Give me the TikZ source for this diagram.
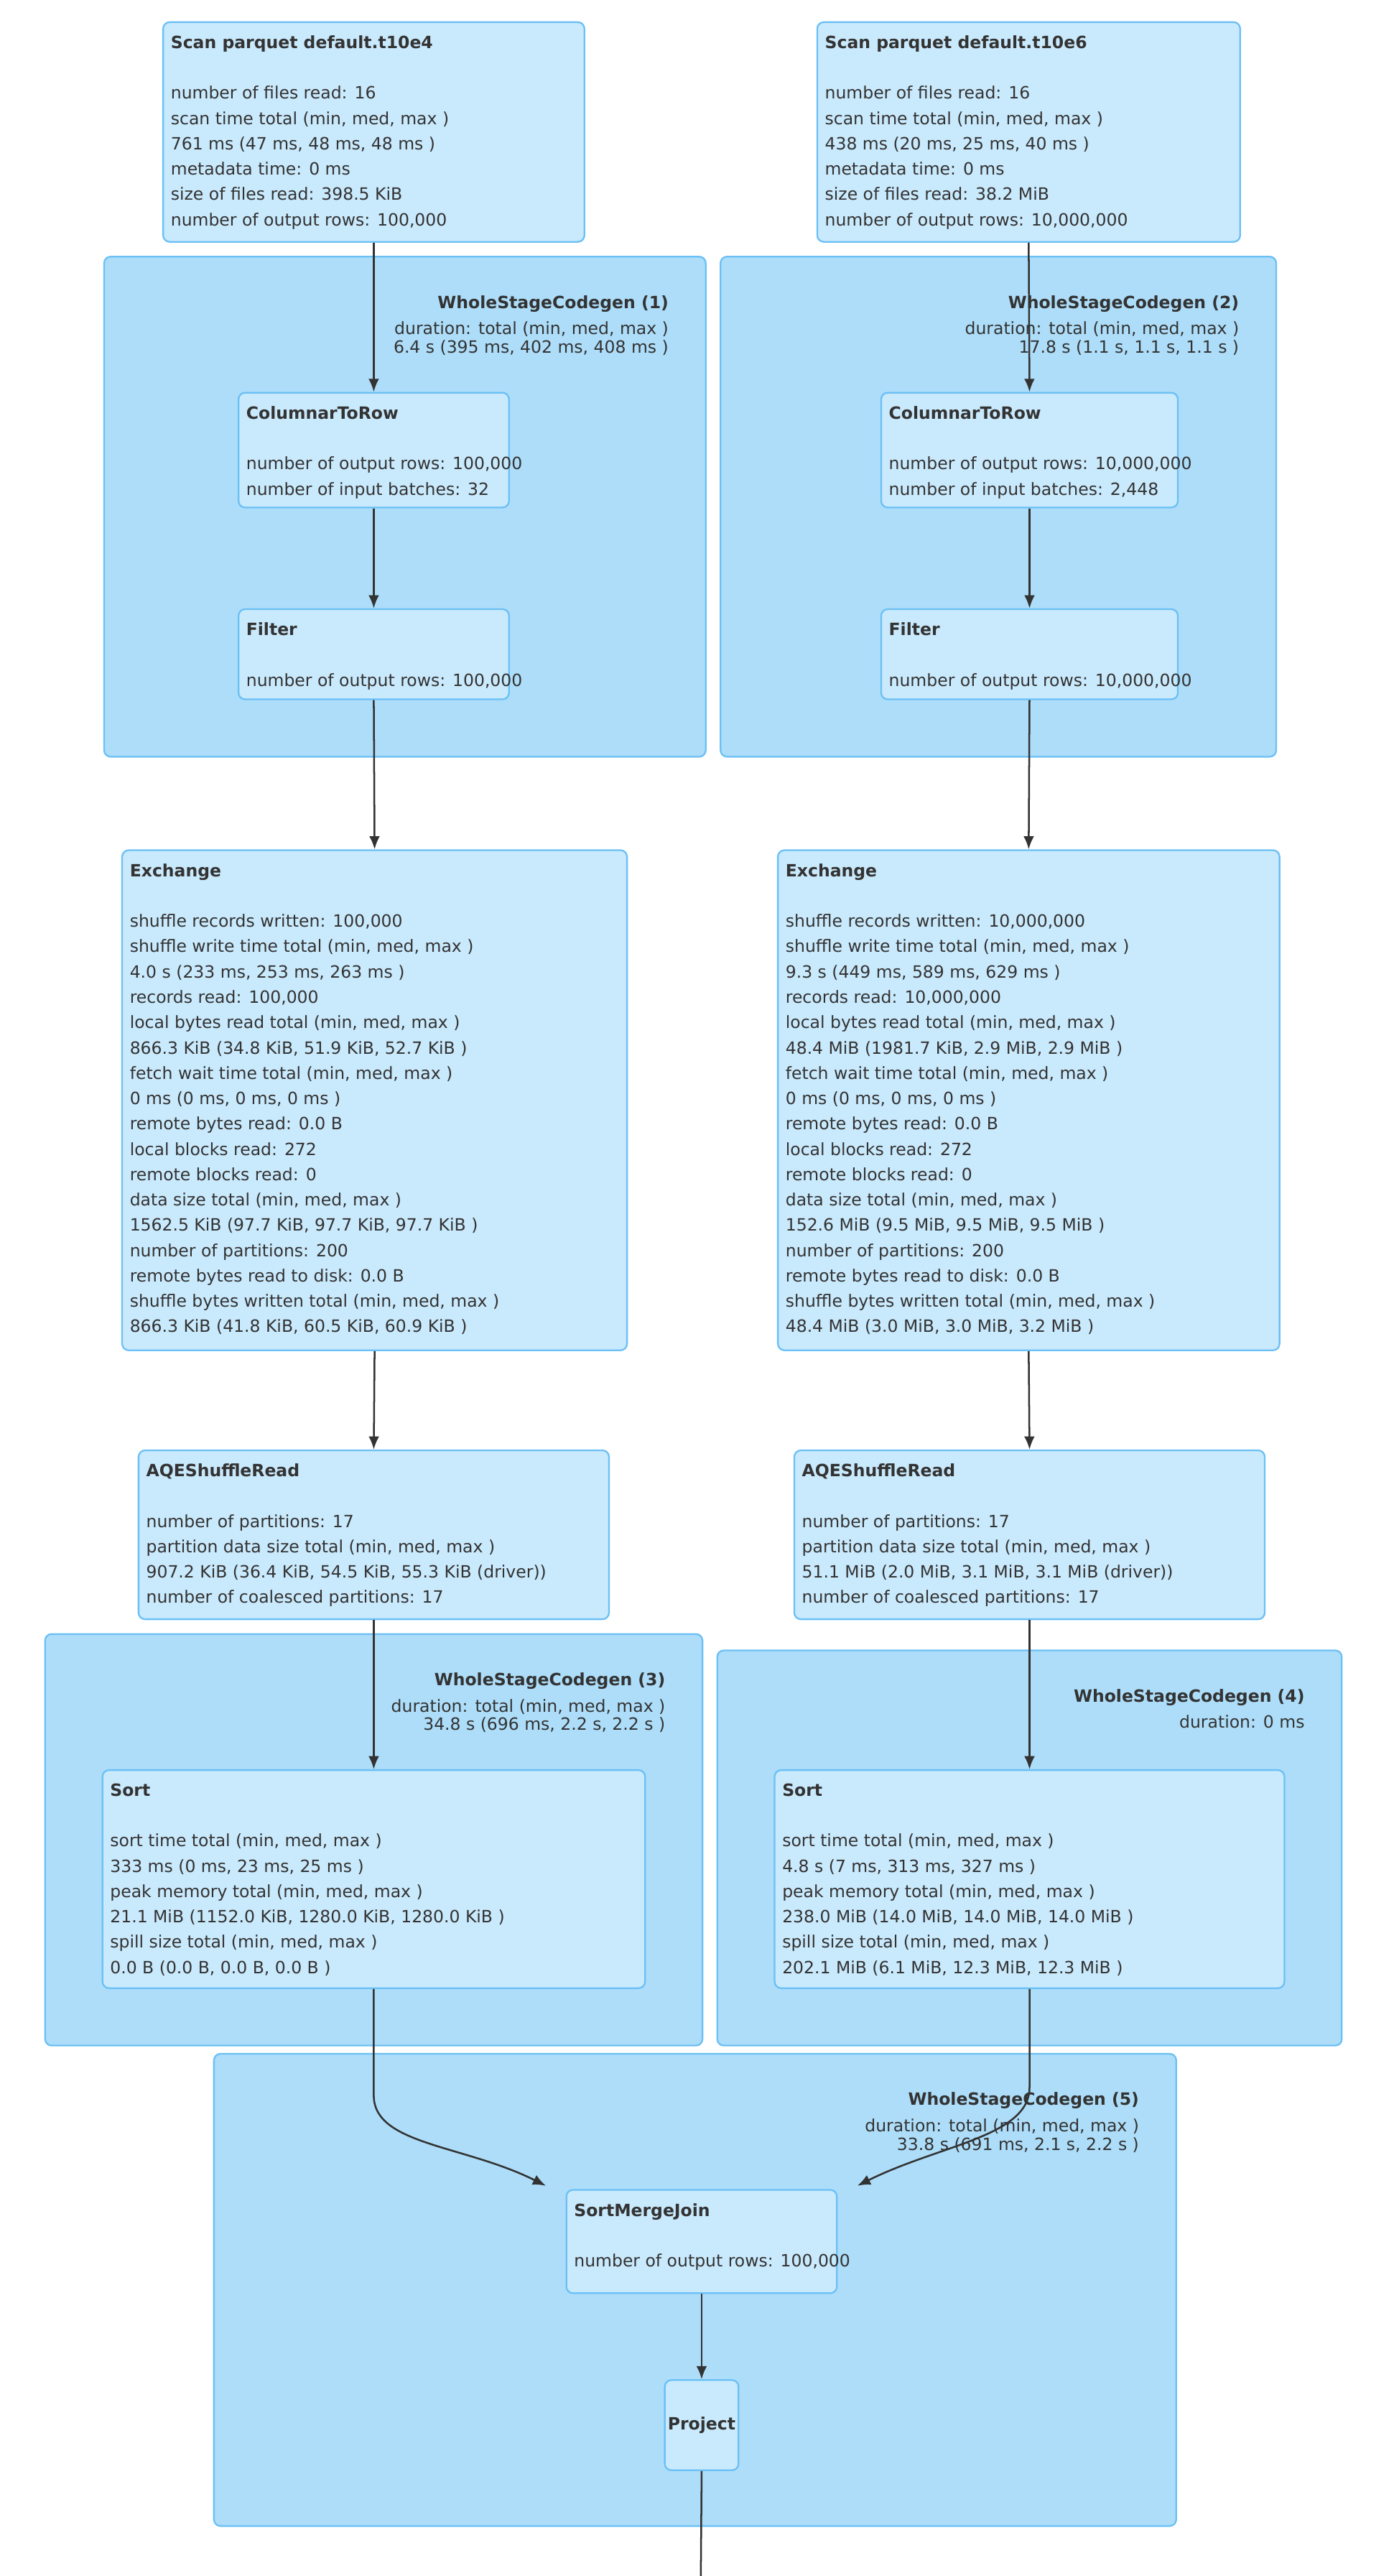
\documentclass[tikz,border=0pt]{standalone}
\usepackage{fontspec}
\setmainfont{DejaVu Sans}
\usetikzlibrary{arrows.meta,calc}
\definecolor{outerfill}{HTML}{ADDDF9}
\definecolor{outerline}{HTML}{6BC0F5}
\definecolor{innerfill}{HTML}{C9E9FC}
\definecolor{txtc}{HTML}{333333}
\tikzset{
  cluster/.style={draw=outerline,fill=outerfill,line width=1pt,rounded corners=4pt,inner sep=0pt,anchor=north west},
  opbox/.style={draw=outerline,fill=innerfill,line width=1pt,rounded corners=4pt,inner sep=0pt,anchor=north west},
  txt/.style={text=txtc,font=\fontsize{10.3}{15.45}\selectfont,align=left,inner sep=0pt,anchor=north west},
  wtxt/.style={text=txtc,font=\fontsize{10.3}{11.2}\selectfont,align=right,inner sep=0pt,anchor=base east},
  flow/.style={draw=txtc,line width=1.1pt,-{Latex[length=8pt,width=6.5pt]}},
}
\newcommand{\clus}[6]{%
  \node[cluster,minimum width={#4-#2},minimum height={#5-#3}] (#1) at (#2,#3) {};
  \node[wtxt] (#1t) at (#4-22,#3+32) {\textbf{#6}};}
\newcommand{\clusdur}[2]{%
  \node[wtxt,anchor=north east] (#1d) at ($(#1t.base east)+(0,8)$) {#2};}
\newcommand{\op}[7]{%
  \node[opbox,minimum width={#4-#2},minimum height={#5-#3}] (#1) at (#2,#3) {};
  \node[txt] (#1t) at (#2+5,#3+8.5) {\textbf{#6}\\[15.45pt]#7};}
\begin{document}
\begin{tikzpicture}[x=1pt,y=-1pt]
\useasboundingbox (0,0) rectangle (850,1571);
% clusters
\clus{w1}{63}{156}{430}{461}{WholeStageCodegen (1)}
\clusdur{w1}{duration: total (min, med, max )\\6.4 s (395 ms, 402 ms, 408 ms )}
\clus{w2}{439}{156}{778}{461}{WholeStageCodegen (2)}
\clusdur{w2}{duration: total (min, med, max )\\17.8 s (1.1 s, 1.1 s, 1.1 s )}
\clus{w3}{27}{996}{428}{1247}{WholeStageCodegen (3)}
\clusdur{w3}{duration: total (min, med, max )\\34.8 s (696 ms, 2.2 s, 2.2 s )}
\clus{w4}{437}{1006}{818}{1247}{WholeStageCodegen (4)}
\clusdur{w4}{duration: 0 ms}
\clus{w5}{130}{1252}{717}{1540}{WholeStageCodegen (5)}
\clusdur{w5}{duration: total (min, med, max )\\33.8 s (691 ms, 2.1 s, 2.2 s )}
% operators
\op{s1}{99}{13}{356}{147}{Scan parquet default.t10e4}{number of files read: 16\\scan time total (min, med, max )\\761 ms (47 ms, 48 ms, 48 ms )\\metadata time: 0 ms\\size of files read: 398.5 KiB\\number of output rows: 100,000}
\op{s2}{498}{13}{756}{147}{Scan parquet default.t10e6}{number of files read: 16\\scan time total (min, med, max )\\438 ms (20 ms, 25 ms, 40 ms )\\metadata time: 0 ms\\size of files read: 38.2 MiB\\number of output rows: 10,000,000}
\op{c1}{145}{239}{310}{309}{ColumnarToRow}{number of output rows: 100,000\\number of input batches: 32}
\op{c2}{537}{239}{718}{309}{ColumnarToRow}{number of output rows: 10,000,000\\number of input batches: 2,448}
\op{f1}{145}{371}{310}{426}{Filter}{number of output rows: 100,000}
\op{f2}{537}{371}{718}{426}{Filter}{number of output rows: 10,000,000}
\op{e1}{74}{518}{382}{823}{Exchange}{shuffle records written: 100,000\\shuffle write time total (min, med, max )\\4.0 s (233 ms, 253 ms, 263 ms )\\records read: 100,000\\local bytes read total (min, med, max )\\866.3 KiB (34.8 KiB, 51.9 KiB, 52.7 KiB )\\fetch wait time total (min, med, max )\\0 ms (0 ms, 0 ms, 0 ms )\\remote bytes read: 0.0 B\\local blocks read: 272\\remote blocks read: 0\\data size total (min, med, max )\\1562.5 KiB (97.7 KiB, 97.7 KiB, 97.7 KiB )\\number of partitions: 200\\remote bytes read to disk: 0.0 B\\shuffle bytes written total (min, med, max )\\866.3 KiB (41.8 KiB, 60.5 KiB, 60.9 KiB )}
\op{e2}{474}{518}{780}{823}{Exchange}{shuffle records written: 10,000,000\\shuffle write time total (min, med, max )\\9.3 s (449 ms, 589 ms, 629 ms )\\records read: 10,000,000\\local bytes read total (min, med, max )\\48.4 MiB (1981.7 KiB, 2.9 MiB, 2.9 MiB )\\fetch wait time total (min, med, max )\\0 ms (0 ms, 0 ms, 0 ms )\\remote bytes read: 0.0 B\\local blocks read: 272\\remote blocks read: 0\\data size total (min, med, max )\\152.6 MiB (9.5 MiB, 9.5 MiB, 9.5 MiB )\\number of partitions: 200\\remote bytes read to disk: 0.0 B\\shuffle bytes written total (min, med, max )\\48.4 MiB (3.0 MiB, 3.0 MiB, 3.2 MiB )}
\op{a1}{84}{884}{371}{987}{AQEShuffleRead}{number of partitions: 17\\partition data size total (min, med, max )\\907.2 KiB (36.4 KiB, 54.5 KiB, 55.3 KiB (driver))\\number of coalesced partitions: 17}
\op{a2}{484}{884}{771}{987}{AQEShuffleRead}{number of partitions: 17\\partition data size total (min, med, max )\\51.1 MiB (2.0 MiB, 3.1 MiB, 3.1 MiB (driver))\\number of coalesced partitions: 17}
\op{o1}{62}{1079}{393}{1212}{Sort}{sort time total (min, med, max )\\333 ms (0 ms, 23 ms, 25 ms )\\peak memory total (min, med, max )\\21.1 MiB (1152.0 KiB, 1280.0 KiB, 1280.0 KiB )\\spill size total (min, med, max )\\0.0 B (0.0 B, 0.0 B, 0.0 B )}
\op{o2}{472}{1079}{783}{1212}{Sort}{sort time total (min, med, max )\\4.8 s (7 ms, 313 ms, 327 ms )\\peak memory total (min, med, max )\\238.0 MiB (14.0 MiB, 14.0 MiB, 14.0 MiB )\\spill size total (min, med, max )\\202.1 MiB (6.1 MiB, 12.3 MiB, 12.3 MiB )}
\op{j}{345}{1335}{510}{1398}{SortMergeJoin}{number of output rows: 100,000}
\node[opbox,minimum width=45,minimum height=55] (p) at (405,1451) {};
\node[txt,anchor=center] (pt) at (p.center) {\textbf{Project}};
\coordinate (pend) at (427.5,1571);
% connectors
\draw[flow] (s1.south) -- (c1.north);
\draw[flow] (c1.south) -- (f1.north);
\draw[flow] (f1.south) -- (e1.north);
\draw[flow] (e1.south) -- (a1.north);
\draw[flow] (a1.south) -- (o1.north);
\draw[flow] (s2.south) -- (c2.north);
\draw[flow] (c2.south) -- (f2.north);
\draw[flow] (f2.south) -- (e2.north);
\draw[flow] (e2.south) -- (a2.north);
\draw[flow] (a2.south) -- (o2.north);
\coordinate (jl) at ($(j.north west)+(-12,-2)$);
\coordinate (jr) at ($(j.north east)+(12,-2)$);
\draw[flow] (o1.south) -- ++(0,65) .. controls +(0,30) and +(-50,-25) .. (jl);
\draw[flow] (o2.south) -- ++(0,60) .. controls +(0,30) and +(50,-25) .. (jr);
\draw[flow] (j.south) -- (p.north);
\draw[draw=txtc,line width=1.1pt] (p.south) -- (pend);
\end{tikzpicture}
\end{document}
